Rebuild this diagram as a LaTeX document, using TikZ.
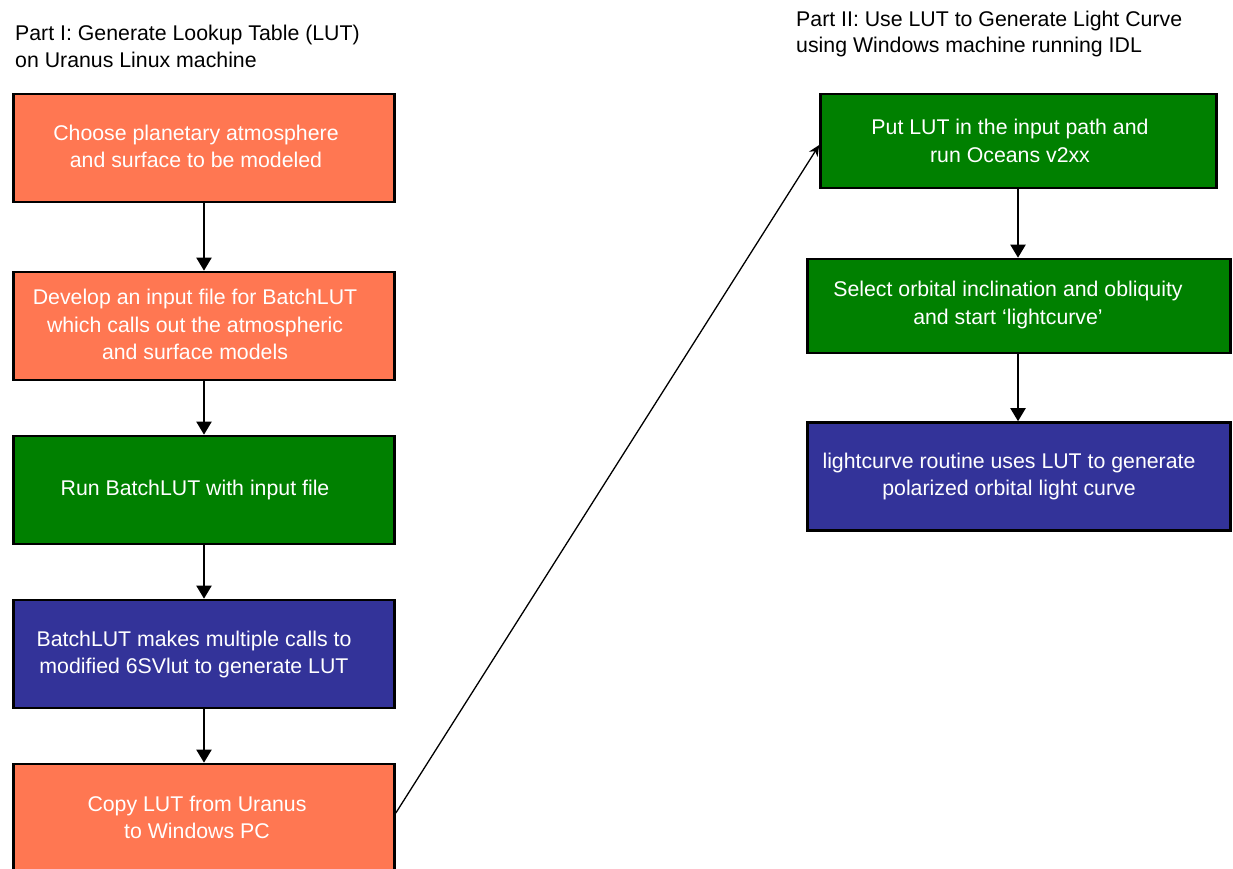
\documentclass[tikz,border=0pt]{standalone}
\usepackage{fontspec}
\setmainfont{Liberation Sans}
\usetikzlibrary{arrows.meta}
\definecolor{stepOrange}{HTML}{FF7752}
\definecolor{stepGreen}{HTML}{008000}
\definecolor{stepBlue}{HTML}{333399}
\begin{document}
\begin{tikzpicture}[x=1pt,y=-1pt,
  stepbox/.style={draw=black, line width=2.6pt, minimum width=381pt, inner sep=0pt},
  boxtext/.style={text=white, align=center, inner sep=0pt,
    font=\fontsize{21.3}{27.5}\selectfont},
  heading/.style={text=black, align=left, inner sep=0pt, anchor=west,
    font=\fontsize{21.3}{26.5}\selectfont},
  flow/.style={line width=2pt, -{Triangle[length=13pt,width=15pt]}},
  link/.style={line width=1.3pt, -{Stealth[length=11pt,width=10pt]}}]
\useasboundingbox (0,0) rectangle (1233,869);
\clip (0,0) rectangle (1233,869);

% headings
\node[heading] (h1) at (15,46.5) {Part I: Generate Lookup Table (LUT)\\on Uranus Linux machine};
\node[heading] (h2) at (796,34) {Part II: Use LUT to Generate Light Curve\\using Windows machine running IDL};

% Part I column
\node[stepbox, fill=stepOrange, minimum height=108pt] (b1) at (204,148) {};
\node[stepbox, fill=stepOrange, minimum height=108pt] (b2) at (204,326) {};
\node[stepbox, fill=stepGreen,  minimum height=108pt] (b3) at (204,490) {};
\node[stepbox, fill=stepBlue,   minimum height=108pt] (b4) at (204,654) {};
\node[stepbox, fill=stepOrange, minimum height=108pt] (b5) at (204,818) {};

\node[boxtext] (t1) at (196,146.5) {Choose planetary atmosphere\\and surface to be modeled};
\node[boxtext] (t2) at (195,324.5) {Develop an input file for BatchLUT\\which calls out the atmospheric\\and surface models};
\node[boxtext] (t3) at (195,489.5) {Run BatchLUT with input file};
\node[boxtext] (t4) at (194,654.5) {BatchLUT makes multiple calls to\\modified 6SVlut to generate LUT};
\node[boxtext] (t5) at (197,817.5) {Copy LUT from Uranus\\to Windows PC};

% Part II column
\node[stepbox, fill=stepGreen, minimum width=396pt, minimum height=94pt] (r1) at (1018.5,141) {};
\node[stepbox, fill=stepGreen, minimum width=423pt, minimum height=94pt] (r2) at (1019,306) {};
\node[stepbox, fill=stepBlue,  minimum width=423pt, minimum height=108pt] (r3) at (1019,476.5) {};

\node[boxtext] (s1) at (1010,141) {Put LUT in the input path and\\run Oceans v2xx};
\node[boxtext] (s2) at (1008,305) {Select orbital inclination and obliquity\\and start ‘lightcurve’};
\node[boxtext] (s3) at (1009,476.5) {lightcurve routine uses LUT to generate\\polarized orbital light curve};

% connectors
\draw[flow] (b1.south) -- (b2.north);
\draw[flow] (b2.south) -- (b3.north);
\draw[flow] (b3.south) -- (b4.north);
\draw[flow] (b4.south) -- (b5.north);
\draw[flow] (r1.south -| 1018,0) -- (r2.north -| 1018,0);
\draw[flow] (r2.south -| 1018,0) -- (r3.north -| 1018,0);
\draw[link] ([yshift=5pt]b5.east) -- ([yshift=-4pt]r1.west);
\end{tikzpicture}
\end{document}
